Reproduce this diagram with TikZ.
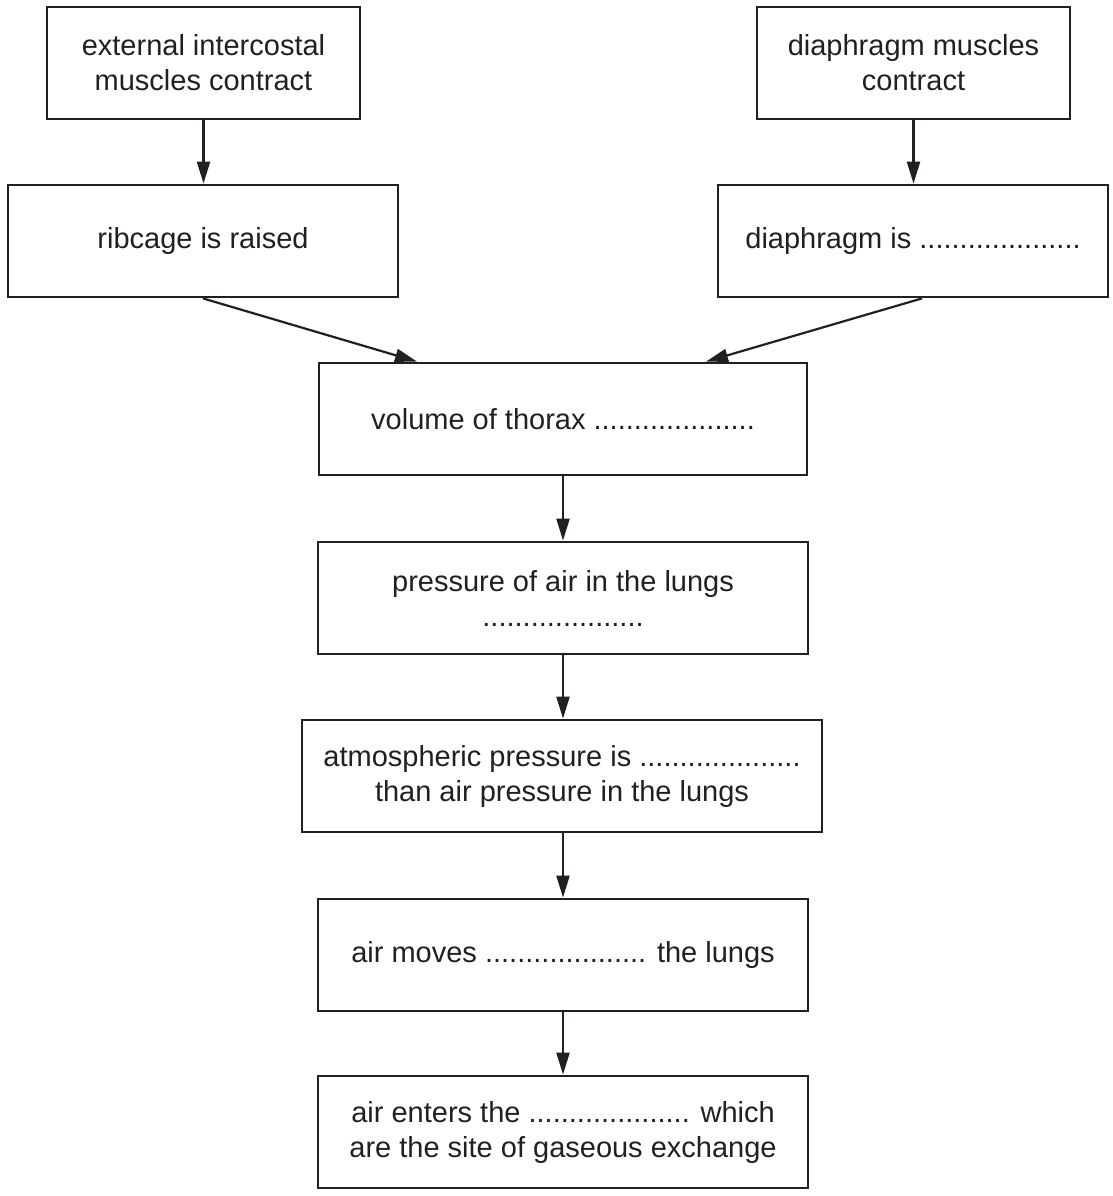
\documentclass[tikz,border=0pt]{standalone}
\usepackage{fontspec}
\setmainfont{Liberation Sans}
\usetikzlibrary{arrows.meta,calc}
\definecolor{ink}{HTML}{231F20}
\begin{document}
\begin{tikzpicture}[x=1pt,y=-1pt,
  flowbox/.style={draw=ink,line width=2.8pt,text=ink,align=center,inner sep=0pt,
    minimum height=112pt,font=\fontsize{29}{35}\selectfont},
  flowarrow/.style={draw=ink,line width=2.2pt,-{Triangle[length=22pt,width=13pt]}}]
\useasboundingbox (0,0) rectangle (1112,1196);
\node[flowbox,minimum width=313pt] (b1) at (203.5,63) {external intercostal\\muscles contract};
\node[flowbox,minimum width=313pt] (b2) at (913.5,63) {diaphragm muscles\\contract};
\node[flowbox,minimum width=390pt] (b3) at (203,241) {ribcage is raised};
\node[flowbox,minimum width=390pt] (b4) at (913,241) {diaphragm is ....................};
\node[flowbox,minimum width=488pt] (b5) at (563,419) {volume of thorax ....................};
\node[flowbox,minimum width=490pt] (b6) at (563,598) {pressure of air in the lungs\\....................};
\node[flowbox,minimum width=520pt] (b7) at (562,776) {atmospheric pressure is ....................\\than air pressure in the lungs};
\node[flowbox,minimum width=490pt] (b8) at (563,955) {air moves .................... the lungs};
\node[flowbox,minimum width=490pt] (b9) at (563,1132) {air enters the .................... which\\are the site of gaseous exchange};
\draw[flowarrow] (b1.south) -- (b3.north -| b1.south);
\draw[flowarrow] (b2.south) -- (b4.north -| b2.south);
\draw[flowarrow] (b3.south) -- ($(b5.north)+(-146,0)$);
\draw[flowarrow] ($(b4.south)+(9,0)$) -- ($(b5.north)+(143,0)$);
\draw[flowarrow] (b5.south) -- (b6.north);
\draw[flowarrow] (b6.south) -- (b7.north -| b6.south);
\draw[flowarrow] (b7.south -| b8.north) -- (b8.north);
\draw[flowarrow] (b8.south) -- (b9.north);
\end{tikzpicture}
\end{document}
